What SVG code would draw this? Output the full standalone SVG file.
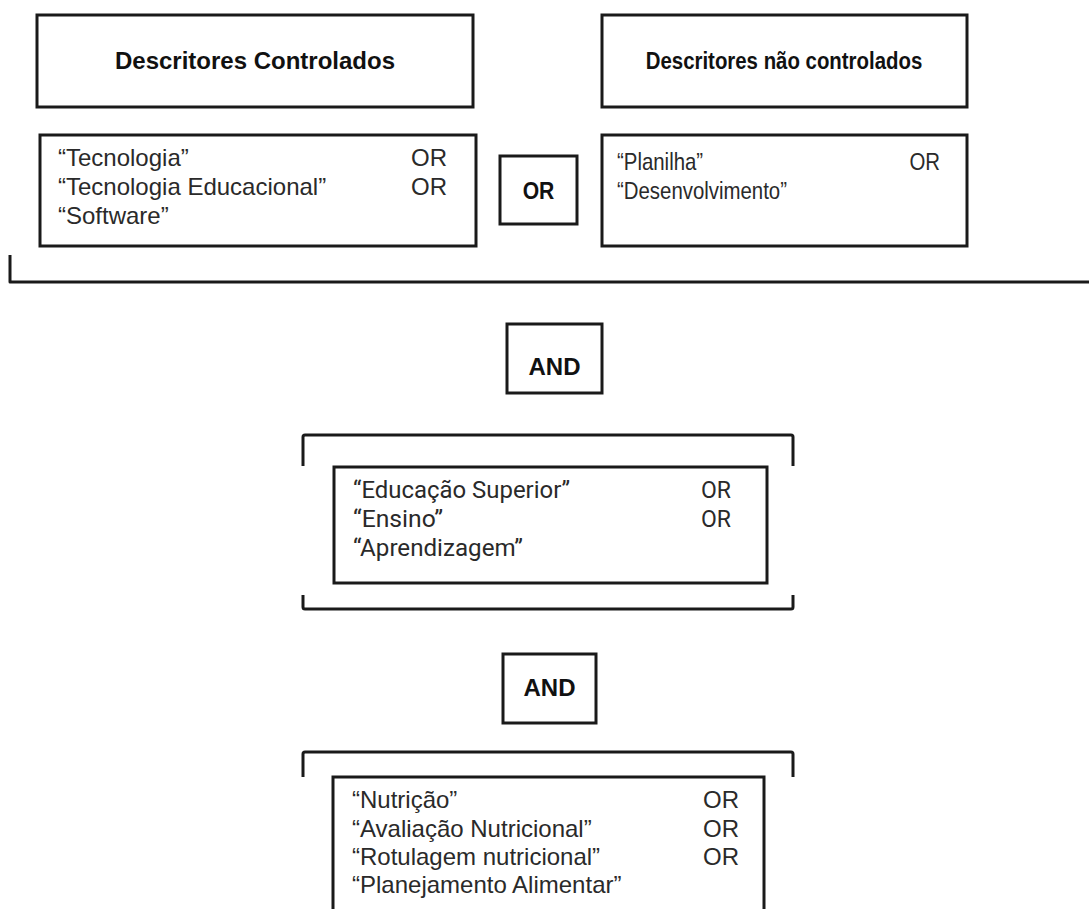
<svg xmlns="http://www.w3.org/2000/svg" width="1089" height="909" viewBox="0 0 1089 909">
  <style>
    .box { fill: #ffffff; stroke: #1a1a1a; stroke-width: 3; }
    .br { fill: none; stroke: #1a1a1a; stroke-width: 3; stroke-linejoin: round; }
    .title { font-family: "Liberation Sans", Arial, sans-serif; font-weight: bold; font-size: 24px; fill: #111; }
    .t { font-family: "Liberation Sans", Arial, sans-serif; font-size: 24px; fill: #2a2a2a; }
    .r { font-family: Roboto, "Liberation Sans", sans-serif; font-size: 23px; fill: #2a2a2a; }
  </style>
  <rect width="1089" height="909" fill="#ffffff"/>

  <g id="connectors">
    <path class="br" d="M10,255 L10,282 L1092,282"/>
    <path class="br" d="M303,466 L303,437 Q303,435 305,435 L791,435 Q793,435 793,437 L793,466"/>
    <path class="br" d="M303,595 L303,607 Q303,609 305,609 L791,609 Q793,609 793,607 L793,595"/>
    <path class="br" d="M303,777 L303,754 Q303,752 305,752 L791,752 Q793,752 793,754 L793,777"/>
  </g>

  <g id="title-controlados">
    <rect class="box" x="37" y="15" width="436" height="92"/>
    <text class="title" x="255" y="69" text-anchor="middle">Descritores Controlados</text>
  </g>

  <g id="title-nao-controlados">
    <rect class="box" x="602" y="15" width="365" height="92"/>
    <text class="title" transform="translate(784,69) scale(0.85,1)" text-anchor="middle">Descritores não controlados</text>
  </g>

  <g id="list-controlados">
    <rect class="box" x="40" y="135" width="436" height="111"/>
    <text class="t" x="58" y="166">“Tecnologia”</text>
    <text class="t" x="58" y="195">“Tecnologia Educacional”</text>
    <text class="t" x="58" y="224">“Software”</text>
    <text class="t" x="411" y="166">OR</text>
    <text class="t" x="411" y="195">OR</text>
  </g>

  <g id="or-box">
    <rect class="box" x="500" y="156" width="77" height="68"/>
    <text class="title" transform="translate(538.5,199) scale(0.88,1)" text-anchor="middle">OR</text>
  </g>

  <g id="list-nao-controlados">
    <rect class="box" x="602" y="135" width="365" height="111"/>
    <g transform="translate(617,0) scale(0.85,1)">
      <text class="t" x="0" y="170">“Planilha”</text>
      <text class="t" x="0" y="199">“Desenvolvimento”</text>
      <text class="t" x="344" y="170">OR</text>
    </g>
  </g>

  <g id="and-1">
    <rect class="box" x="507" y="324" width="95" height="69"/>
    <text class="title" x="554.5" y="375" text-anchor="middle">AND</text>
  </g>

  <g id="list-educacao">
    <rect class="box" x="334" y="467" width="433" height="116"/>
    <text class="r" x="353" y="498" textLength="217" lengthAdjust="spacingAndGlyphs">“Educação Superior”</text>
    <text class="r" x="353" y="527" textLength="90" lengthAdjust="spacingAndGlyphs">“Ensino”</text>
    <text class="r" x="353" y="556" textLength="170" lengthAdjust="spacingAndGlyphs">“Aprendizagem”</text>
    <text class="r" x="701" y="498">OR</text>
    <text class="r" x="701" y="527">OR</text>
  </g>

  <g id="and-2">
    <rect class="box" x="503" y="654" width="93" height="69"/>
    <text class="title" x="549.5" y="696" text-anchor="middle">AND</text>
  </g>

  <g id="list-nutricao">
    <rect class="box" x="333" y="777" width="431" height="150"/>
    <text class="t" x="352" y="808">“Nutrição”</text>
    <text class="t" x="352" y="837">“Avaliação Nutricional”</text>
    <text class="t" x="352" y="865">“Rotulagem nutricional”</text>
    <text class="t" x="352" y="893">“Planejamento Alimentar”</text>
    <text class="t" x="703" y="808">OR</text>
    <text class="t" x="703" y="837">OR</text>
    <text class="t" x="703" y="865">OR</text>
  </g>
</svg>
